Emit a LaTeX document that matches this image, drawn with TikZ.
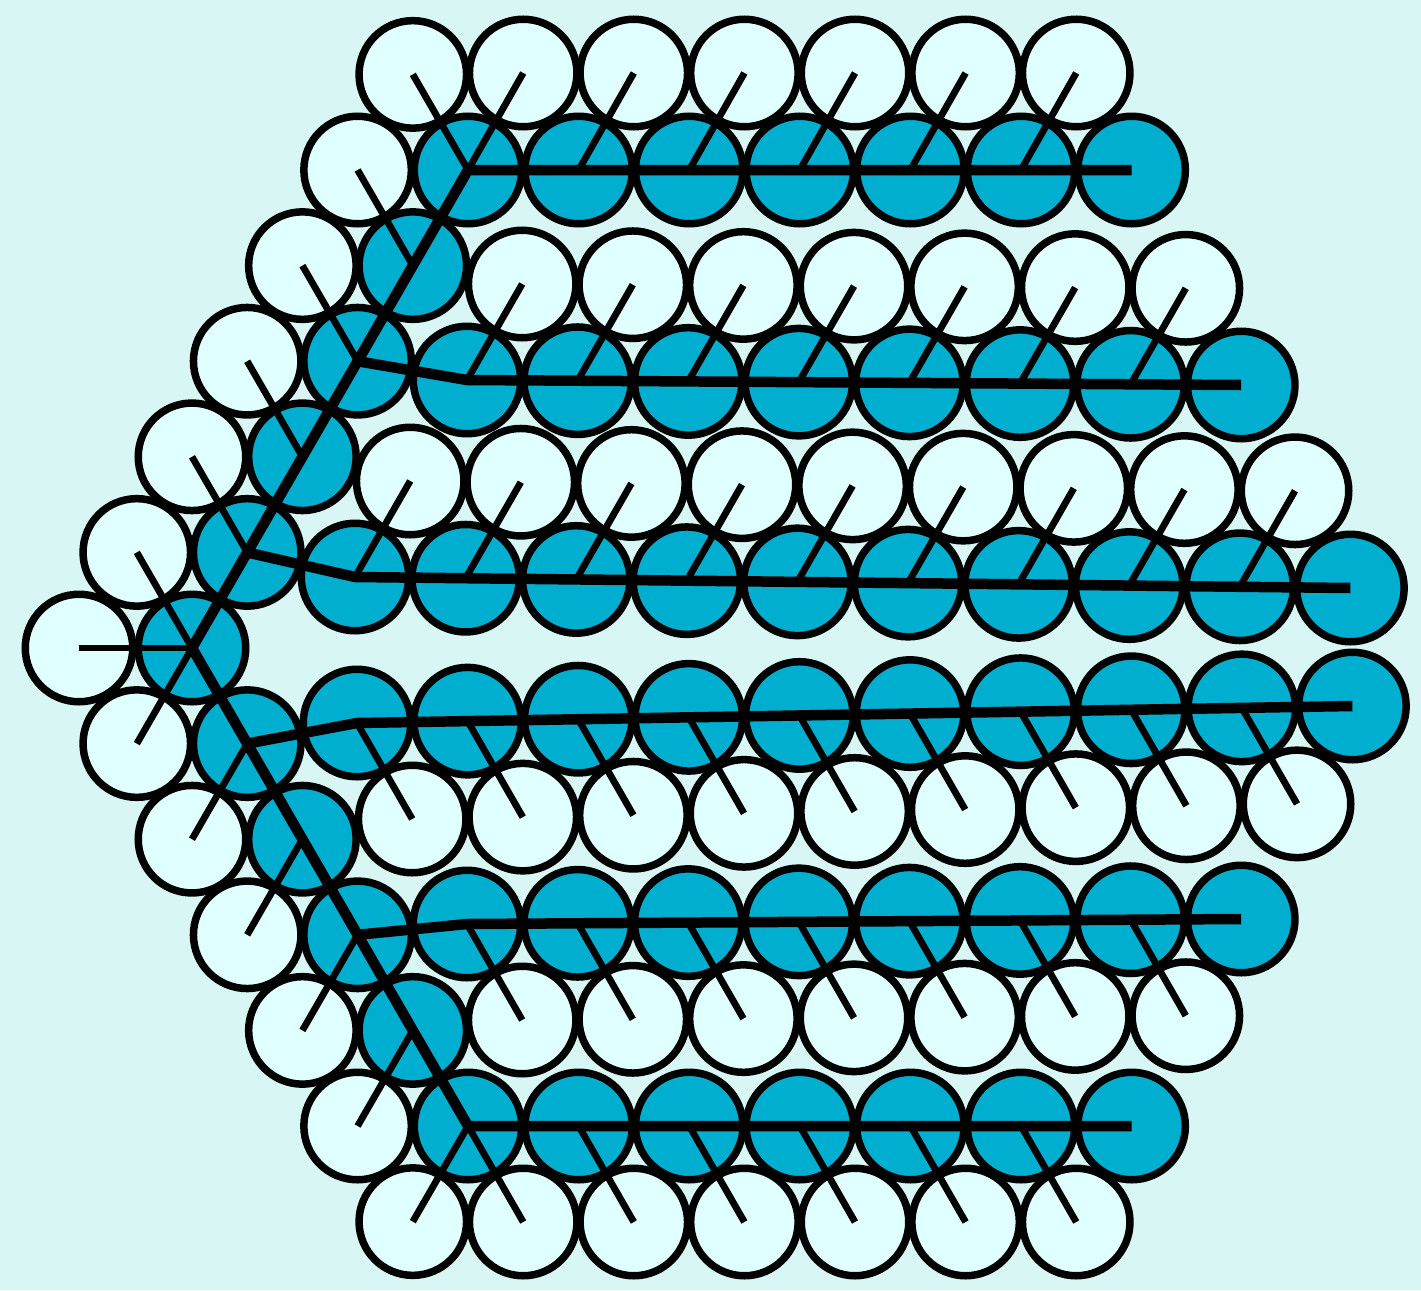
\documentclass[tikz,border=0pt]{standalone}

\definecolor{bgcyan}{RGB}{216,247,244}
\definecolor{leafcyan}{RGB}{224,255,255}
\definecolor{knotteal}{RGB}{0,174,207}

\begin{document}
\begin{tikzpicture}[
x=1pt, y=-1pt,
ball/.style={circle, draw=black, line width=7.5pt, minimum size=107.5pt, inner sep=0pt},
leaf/.style={ball, fill=leafcyan},
knot/.style={ball, fill=knotteal},
twig/.style={line width=6.8pt},
trunk/.style={line width=10.5pt}
]
\useasboundingbox (0,0) rectangle (1421,1290);
\fill[bgcyan] (0,0) rectangle (1421,1290);

% spine: root, upper arm u1..u5, lower arm w1..w5
\node[knot] (root) at (192,648) {};
\node[leaf] (lr) at (79,648) {};
\node[leaf] (lu0) at (136.8,552.4) {};
\node[leaf] (lw0) at (136.8,743.6) {};
\foreach \k in {1,...,5} {
  \node[knot] (u\k) at ({192+55.2*\k},{648-95.6*\k}) {};
  \node[knot] (w\k) at ({192+55.2*\k},{648+95.6*\k}) {};
  \node[leaf] (lu\k) at ({136.8+55.2*\k},{552.4-95.6*\k}) {};
  \node[leaf] (lw\k) at ({136.8+55.2*\k},{743.6+95.6*\k}) {};
}
\coordinate (a0) at (u5);
\coordinate (f0) at (w5);

% branch rows: name/first/x0/y0/y1/last
\foreach \row/\first/\xa/\ya/\yb/\last in {a/1/468/170/170/6, b/0/467/380/385/7, c/0/355/577/588/9,
                                           d/0/357/723/706/9, e/0/467/924/919/7, f/1/468/1126/1126/6} {
  \foreach \i in {\first,...,\last} {
    \node[knot] (\row\i) at ({\xa+110.6*\i},{\ya+(\yb-\ya)*\i/\last}) {};
  }
}

% leaves of the branch rows
\foreach \row/\dy/\last in {a/-97/5, b/-96/6, c/-96/8, d/96/8, e/96/6, f/96/5} {
  \foreach \i in {0,...,\last} {
    \node[leaf] (l\row\i) at ([shift={(55.2,\dy)}]\row\i) {};
  }
}

% twigs
\draw[twig] (lr.center) -- (root.center);
\draw[twig] (lu0.center) -- (root.center);
\draw[twig] (lw0.center) -- (root.center);
\foreach \k in {1,...,5} {
  \draw[twig] (lu\k.center) -- (u\k.center);
  \draw[twig] (lw\k.center) -- (w\k.center);
}
\foreach \row/\last in {a/5, b/6, c/8, d/8, e/6, f/5} {
  \foreach \i in {0,...,\last} {
    \draw[twig] (l\row\i.center) -- (\row\i.center);
  }
}

% trunk
\draw[trunk] (u5.center) -- (u4.center) -- (u3.center) -- (u2.center) -- (u1.center) -- (root.center)
  -- (w1.center) -- (w2.center) -- (w3.center) -- (w4.center) -- (w5.center);
\foreach \stem/\row/\first/\last in {u5/a/1/6, u3/b/0/7, u1/c/0/9, w1/d/0/9, w3/e/0/7, w5/f/1/6} {
  \draw[trunk] (\stem.center) \foreach \i in {\first,...,\last} { -- (\row\i.center) };
}
\end{tikzpicture}
\end{document}
